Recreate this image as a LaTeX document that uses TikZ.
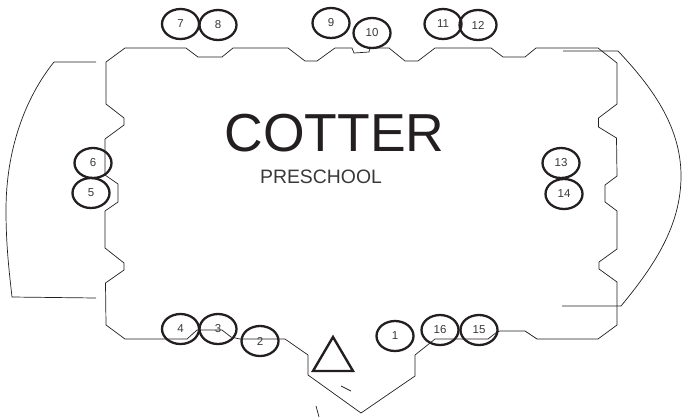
\documentclass[tikz,border=0pt]{standalone}
\usepackage{fontspec}
\setmainfont{Liberation Sans}
\usetikzlibrary{shapes.geometric}
\definecolor{ink}{HTML}{231F20}
\definecolor{numtext}{HTML}{3A3839}
\tikzset{
  wall/.style={draw=ink,line width=0.7pt,line join=miter},
  spot/.style={ellipse,draw=ink,line width=2.3pt,minimum width=37pt,minimum height=30pt,inner sep=0pt,
    text=numtext,font=\fontsize{11.5}{11.5}\selectfont},
  mark triangle/.style={draw=ink,line width=2.4pt,line join=miter},
  heading/.style={text=ink,inner sep=0pt,anchor=base,font=\fontsize{53.5}{54}\selectfont},
  subheading/.style={text=numtext,inner sep=0pt,anchor=base,font=\fontsize{19.4}{20}\selectfont},
}
\begin{document}
\begin{tikzpicture}[x=1pt,y=-1pt]
\useasboundingbox (0,0) rectangle (687,418);
% building outline
\draw[wall] (106,62) -- (125,48) -- (186,48) -- (198,57) -- (222,57) -- (233,48) -- (288,48)
  -- (305,61) -- (317,61) -- (335,48) -- (352,48) -- (354,53) -- (369,52) -- (370,48) -- (389,48)
  -- (405,61) -- (418,61) -- (435,48) -- (491,48) -- (503,57) -- (525,57) -- (536,48) -- (598,48)
  -- (617,63) -- (617,104) -- (598.5,118) -- (598.5,127) -- (616.5,138) -- (617,176) -- (605,185)
  -- (605,202) -- (617,211) -- (617,249) -- (599,262) -- (599,269) -- (617,282) -- (617,325)
  -- (598,339) -- (537,339) -- (525,331) -- (500,331) -- (497,332) -- (488,339) -- (435,339)
  -- (415,355) -- (415,376) -- (361,413) -- (308,375) -- (308,355) -- (285,339) -- (240,339)
  -- (231,337) -- (222,330) -- (197,330) -- (187,339) -- (125,339) -- (106,325) -- (105.5,283)
  -- (124,270) -- (124,263) -- (105,248) -- (105,211) -- (118,202) -- (118,184) -- (105,175)
  -- (105,139) -- (124,125) -- (124,118) -- (106,104) -- cycle;
% arcs
\draw[wall] (96,62) -- (54,62) .. controls (25,98) and (6,150) .. (6,210) .. controls (6,245) and (9,270) .. (12,297) -- (96,298);
\draw[wall] (563,51) -- (618,51) .. controls (650,85) and (681,125) .. (681,176) .. controls (681,225) and (655,265) .. (621,306) -- (562,306);
% entrance marks
\draw[mark triangle] (333,337) -- (353,371) -- (313,371) -- cycle;
\draw[wall] (341,386) -- (351,391);
\draw[wall] (316,406) -- (319,417);
% numbered spots
\node[spot] (s1) at (395,336) {1};
\node[spot] (s2) at (260,341) {2};
\node[spot] (s3) at (218,329) {3};
\node[spot] (s4) at (180.5,329) {4};
\node[spot] (s5) at (91,193) {5};
\node[spot] (s6) at (93,163) {6};
\node[spot] (s7) at (180.5,24) {7};
\node[spot] (s8) at (218,25) {8};
\node[spot] (s9) at (331,23) {9};
\node[spot] (s10) at (372,33) {10};
\node[spot] (s11) at (443,24) {11};
\node[spot] (s12) at (478,25) {12};
\node[spot] (s13) at (561,163) {13};
\node[spot] (s14) at (564,194) {14};
\node[spot] (s15) at (479,330) {15};
\node[spot] (s16) at (440,330) {16};
% titles
\node[heading] (title) at (334.5,151.5) {COTTER};
\node[subheading] (sub) at (321,183.5) {PRESCHOOL};
\end{tikzpicture}
\end{document}
